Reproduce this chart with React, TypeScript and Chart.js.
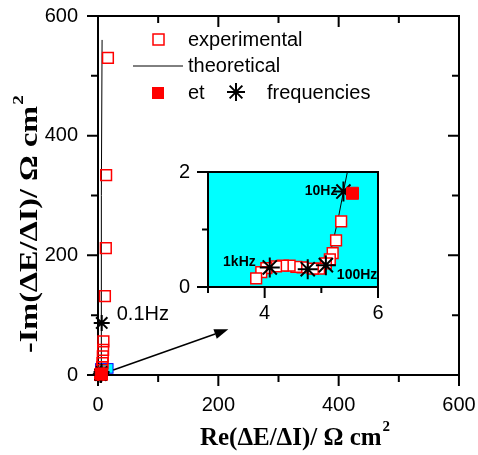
import React, { useEffect, useRef } from 'react';
import { Chart, registerables } from 'chart.js';

Chart.register(...registerables);

// ---------- data ----------
const expRe = [16.5, 13.5, 13, 11.5, 9, 8.5, 8, 7.5, 7, 6.5, 6, 5.35, 5.26, 5.2, 5.15, 5.08, 4.96, 4.85, 4.67, 4.56, 4.44, 4.32, 4.2, 4.03, 3.94, 3.85];
const expIm = [530, 334, 212, 132, 56, 42, 31, 20, 13, 8, 4, 1.14, 0.81, 0.59, 0.48, 0.41, 0.32, 0.32, 0.34, 0.35, 0.37, 0.37, 0.36, 0.33, 0.26, 0.15];

const theoRe = [3.93, 4.0, 4.09, 4.25, 4.45, 4.62, 4.76, 4.9, 5.02, 5.1, 5.16, 5.22, 5.3, 5.39, 5.48, 5.8, 6.2, 6.5, 6.8];
const theoIm = [0.13, 0.25, 0.34, 0.37, 0.37, 0.34, 0.31, 0.31, 0.34, 0.42, 0.6, 0.85, 1.2, 1.66, 2.1, 5, 87, 300, 560];

const etRe = [5.55];
const etIm = [1.63];

const freqRe = [4.09, 4.76, 5.08, 5.39, 5.9, 6.2];
const freqIm = [0.34, 0.31, 0.38, 1.66, 5, 87];
const freqLabels = ['1kHz', '', '100Hz', '10Hz', '', '0.1Hz'];

const mainTicks = [0, 100, 200, 300, 400, 500, 600];
const mainMajor = [0, 200, 400, 600];
const insetXTicks = [3, 4, 5, 6];
const insetXMajor = [4, 6];
const insetYTicks = [0, 1, 2];
const insetYMajor = [0, 2];

// zoom indicator box and arrow (data coordinates of main plot)
const boxRe = [-4, 25];
const boxIm = [3, 19];
const arrowRe = [25.4, 216.6];
const arrowIm = [8.4, 76.4];

const xTitle = 'Re(\u0394E/\u0394I)/ \u03A9 cm';
const yTitle = '-Im(\u0394E/\u0394I)/ \u03A9 cm';
const legendItems = ['experimental', 'theoretical', 'et', 'frequencies'];

const zip = (xs: number[], ys: number[]) => xs.map((x, i) => ({ x, y: ys[i] }));

const SANS = 'Arial, "Liberation Sans", sans-serif';
const SERIF = '"Liberation Serif", "Times New Roman", serif';

function drawStar(ctx: CanvasRenderingContext2D, x: number, y: number, r: number, lw = 2) {
  ctx.save();
  ctx.strokeStyle = '#000';
  ctx.lineWidth = lw;
  ctx.beginPath();
  for (let k = 0; k < 4; k++) {
    const a = (k * Math.PI) / 4;
    ctx.moveTo(x - r * Math.cos(a), y - r * Math.sin(a));
    ctx.lineTo(x + r * Math.cos(a), y + r * Math.sin(a));
  }
  ctx.stroke();
  ctx.restore();
}

function drawSupTitle(ctx: CanvasRenderingContext2D, main: string, sup: string, size: number, supSize: number, raise: number, targetLen: number) {
  const mf = `bold ${size}px ${SERIF}`;
  const sf = `bold ${supSize}px ${SERIF}`;
  ctx.font = mf;
  const wm = ctx.measureText(main).width;
  ctx.font = sf;
  const ws = ctx.measureText(sup).width;
  const total = wm + ws + 1;
  const sx = targetLen / total;
  ctx.scale(sx, 1);
  const x0 = -total / 2;
  ctx.fillStyle = '#000';
  ctx.textAlign = 'left';
  ctx.textBaseline = 'alphabetic';
  ctx.font = mf;
  ctx.fillText(main, x0, 0);
  ctx.font = sf;
  ctx.fillText(sup, x0 + wm + 1, -raise);
}

const mainDecor = {
  id: 'mainDecor',
  beforeDatasetsDraw(chart: any) {
    const { ctx, chartArea: a, scales } = chart;
    const xs = scales.x, ys = scales.y;
    ctx.save();
    // indicator box
    const bx0 = xs.getPixelForValue(boxRe[0]);
    const bx1 = xs.getPixelForValue(boxRe[1]);
    const by0 = ys.getPixelForValue(boxIm[0]);
    const by1 = ys.getPixelForValue(boxIm[1]);
    ctx.fillStyle = '#00FFFF';
    ctx.fillRect(bx0, by1, bx1 - bx0, by0 - by1);
    ctx.strokeStyle = '#0000FF';
    ctx.lineWidth = 1;
    ctx.strokeRect(bx0, by1, bx1 - bx0, by0 - by1);
    // arrow
    const ax0 = xs.getPixelForValue(arrowRe[0]);
    const ay0 = ys.getPixelForValue(arrowIm[0]);
    const ax1 = xs.getPixelForValue(arrowRe[1]);
    const ay1 = ys.getPixelForValue(arrowIm[1]);
    const ang = Math.atan2(ay1 - ay0, ax1 - ax0);
    const hl = 14, hw = 5;
    ctx.strokeStyle = '#000';
    ctx.lineWidth = 1.5;
    ctx.beginPath();
    ctx.moveTo(ax0, ay0);
    ctx.lineTo(ax1 - hl * Math.cos(ang), ay1 - hl * Math.sin(ang));
    ctx.stroke();
    ctx.fillStyle = '#000';
    ctx.beginPath();
    ctx.moveTo(ax1, ay1);
    ctx.lineTo(ax1 - hl * Math.cos(ang) + hw * Math.sin(ang), ay1 - hl * Math.sin(ang) - hw * Math.cos(ang));
    ctx.lineTo(ax1 - hl * Math.cos(ang) - hw * Math.sin(ang), ay1 - hl * Math.sin(ang) + hw * Math.cos(ang));
    ctx.closePath();
    ctx.fill();
    // frame
    ctx.strokeStyle = '#000';
    ctx.lineWidth = 2;
    ctx.strokeRect(a.left, a.top, a.right - a.left, a.bottom - a.top);
    // ticks
    ctx.beginPath();
    for (const v of mainTicks) {
      const len = mainMajor.includes(v) ? 11 : 7;
      const px = xs.getPixelForValue(v);
      const py = ys.getPixelForValue(v);
      ctx.moveTo(px, a.bottom); ctx.lineTo(px, a.bottom + len);
      ctx.moveTo(px, a.top); ctx.lineTo(px, a.top + len);
      ctx.moveTo(a.left, py); ctx.lineTo(a.left - len, py);
      ctx.moveTo(a.right, py); ctx.lineTo(a.right - len, py);
    }
    ctx.stroke();
    ctx.restore();
  },
  afterDraw(chart: any) {
    const { ctx, scales } = chart;
    const xs = scales.x, ys = scales.y;
    // axis titles
    ctx.save();
    ctx.translate(295, 445);
    drawSupTitle(ctx, xTitle, '2', 25, 15, 14, 190);
    ctx.restore();
    ctx.save();
    ctx.translate(37, 224);
    ctx.rotate(-Math.PI / 2);
    drawSupTitle(ctx, yTitle, '2', 25, 15, 14, 258);
    ctx.restore();
    // legend
    ctx.save();
    ctx.font = `20px ${SANS}`;
    ctx.fillStyle = '#000';
    ctx.textAlign = 'left';
    ctx.textBaseline = 'middle';
    ctx.strokeStyle = '#FF0000';
    ctx.lineWidth = 1.5;
    ctx.strokeRect(153, 34, 11, 11);
    ctx.fillText(legendItems[0], 188, 40);
    ctx.strokeStyle = '#000';
    ctx.lineWidth = 1;
    ctx.beginPath();
    ctx.moveTo(133, 66);
    ctx.lineTo(183, 66);
    ctx.stroke();
    ctx.fillText(legendItems[1], 188, 66);
    ctx.fillStyle = '#FF0000';
    ctx.fillRect(152, 87, 12, 12);
    ctx.fillStyle = '#000';
    ctx.fillText(legendItems[2], 188, 93);
    drawStar(ctx, 236, 92, 9);
    ctx.fillText(legendItems[3], 267, 93);
    // 0.1Hz label
    const i = freqLabels.indexOf('0.1Hz');
    ctx.font = `20px ${SANS}`;
    ctx.fillText(freqLabels[i], xs.getPixelForValue(freqRe[i]) + 15, ys.getPixelForValue(freqIm[i]) - 8);
    ctx.restore();
  },
};

const insetDecor = {
  id: 'insetDecor',
  beforeDatasetsDraw(chart: any) {
    const { ctx, chartArea: a } = chart;
    ctx.save();
    ctx.fillStyle = '#00FFFF';
    ctx.fillRect(a.left, a.top, a.right - a.left, a.bottom - a.top);
    ctx.restore();
  },
  afterDatasetsDraw(chart: any) {
    const { ctx, chartArea: a, scales } = chart;
    const xs = scales.x, ys = scales.y;
    ctx.save();
    ctx.strokeStyle = '#000';
    ctx.lineWidth = 2;
    ctx.strokeRect(a.left, a.top, a.right - a.left, a.bottom - a.top);
    ctx.beginPath();
    for (const v of insetXTicks) {
      const len = insetXMajor.includes(v) ? 11 : 6;
      const px = xs.getPixelForValue(v);
      ctx.moveTo(px, a.bottom); ctx.lineTo(px, a.bottom + len);
    }
    for (const v of insetYTicks) {
      const len = insetYMajor.includes(v) ? 11 : 6;
      const py = ys.getPixelForValue(v);
      ctx.moveTo(a.left, py); ctx.lineTo(a.left - len, py);
    }
    ctx.stroke();
    // frequency labels
    ctx.font = `bold 14px ${SANS}`;
    ctx.fillStyle = '#000';
    ctx.textBaseline = 'middle';
    const offs: Record<string, [number, number, CanvasTextAlign]> = {
      '1kHz': [-14, -5, 'right'],
      '100Hz': [11, 10, 'left'],
      '10Hz': [-6, 0, 'right'],
    };
    freqLabels.forEach((lab, i) => {
      const o = offs[lab];
      if (!o) return;
      ctx.textAlign = o[2];
      ctx.fillText(lab, xs.getPixelForValue(freqRe[i]) + o[0], ys.getPixelForValue(freqIm[i]) + o[1]);
    });
    ctx.restore();
  },
};

function datasets(inset: boolean) {
  const clip: any = inset ? 0 : false;
  return [
    {
      label: 'et', data: zip(etRe, etIm), order: 0, clip,
      pointStyle: 'rect', pointRadius: 8.5, backgroundColor: '#FF0000', borderColor: '#FF0000', borderWidth: 1,
    },
    {
      label: 'frequencies', data: zip(freqRe, freqIm), order: 1, clip,
      pointStyle: 'star', pointRadius: inset ? 10 : 8, borderColor: '#000', backgroundColor: '#000', borderWidth: 2,
    },
    {
      label: 'experimental', data: zip(expRe, expIm), order: 2, clip,
      pointStyle: 'rect', pointRadius: 7.6, backgroundColor: inset ? '#FFFFFF' : 'rgba(0,0,0,0)', borderColor: '#FF0000', borderWidth: 1.5,
    },
    {
      label: 'theoretical', data: zip(theoRe, theoIm), order: 3, clip: inset ? 0 : false,
      showLine: true, pointRadius: 0, borderColor: '#000', borderWidth: 1, tension: 0,
    },
  ];
}

const hiddenGrid = { display: true, drawOnChartArea: false, drawTicks: false, color: 'rgba(0,0,0,0)' };

const fitX = (h: number) => (s: any) => { s.height = h; s.paddingLeft = 0; s.paddingRight = 0; };
const fitY = (w: number) => (s: any) => { s.width = w; s.paddingTop = 0; s.paddingBottom = 0; };

export default function App() {
  const mainRef = useRef<HTMLCanvasElement>(null);
  const insetRef = useRef<HTMLCanvasElement>(null);

  useEffect(() => {
    const main = new Chart(mainRef.current as HTMLCanvasElement, {
      type: 'scatter',
      data: { datasets: datasets(false) as any },
      options: {
        animation: false,
        responsive: false,
        events: [],
        layout: { padding: { left: 0, right: 19, top: 16, bottom: 0 } },
        plugins: { legend: { display: false }, tooltip: { enabled: false } },
        scales: {
          x: {
            type: 'linear', min: 0, max: 600,
            afterFit: fitX(80),
            ticks: { stepSize: 200, font: { family: SANS, size: 20 }, color: '#000', padding: 18, maxRotation: 0, autoSkip: false },
            grid: hiddenGrid, border: { display: false },
          },
          y: {
            type: 'linear', min: 0, max: 600,
            afterFit: fitY(98),
            ticks: { stepSize: 200, font: { family: SANS, size: 20 }, color: '#000', padding: 20, autoSkip: false },
            grid: hiddenGrid, border: { display: false },
          },
        },
      } as any,
      plugins: [mainDecor],
    });
    const inset = new Chart(insetRef.current as HTMLCanvasElement, {
      type: 'scatter',
      data: { datasets: datasets(true) as any },
      options: {
        animation: false,
        responsive: false,
        events: [],
        layout: { padding: { left: 0, right: 22, top: 22, bottom: 0 } },
        plugins: { legend: { display: false }, tooltip: { enabled: false } },
        scales: {
          x: {
            type: 'linear', min: 3, max: 6,
            afterFit: fitX(43),
            ticks: {
              stepSize: 1, font: { family: SANS, size: 20 }, color: '#000', padding: 14, maxRotation: 0, autoSkip: false,
              callback: (v: any) => (insetXMajor.includes(Number(v)) ? String(v) : ''),
            },
            grid: hiddenGrid, border: { display: false },
          },
          y: {
            type: 'linear', min: 0, max: 2,
            afterFit: fitY(58),
            ticks: {
              stepSize: 1, font: { family: SANS, size: 20 }, color: '#000', padding: 18, autoSkip: false,
              callback: (v: any) => (insetYMajor.includes(Number(v)) ? String(v) : ''),
            },
            grid: hiddenGrid, border: { display: false },
          },
        },
      } as any,
      plugins: [insetDecor],
    });
    return () => {
      main.destroy();
      inset.destroy();
    };
  }, []);

  return (
    <div style={{ position: 'absolute', left: 0, top: 0, width: 478, height: 455, background: '#fff' }}>
      <canvas ref={mainRef} width={478} height={455} style={{ position: 'absolute', left: 0, top: 0 }} />
      <canvas ref={insetRef} width={250} height={180} style={{ position: 'absolute', left: 150, top: 150 }} />
    </div>
  );
}
